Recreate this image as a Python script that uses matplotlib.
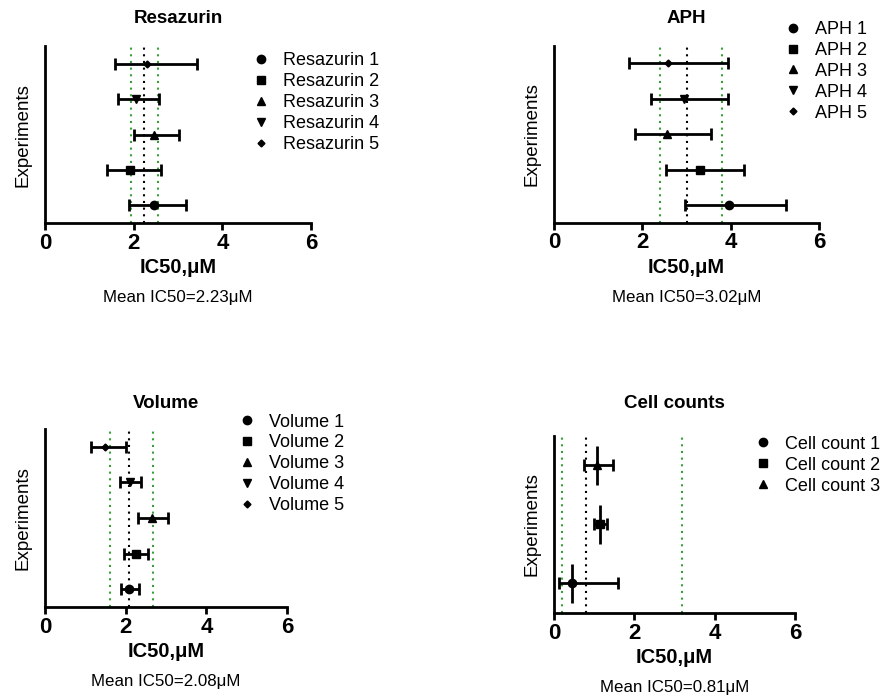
import matplotlib
matplotlib.use("Agg")
from matplotlib import pyplot as plt
from matplotlib.lines import Line2D
import numpy as np

plt.rcParams['font.family'] = ['Liberation Sans', 'DejaVu Sans']

# IC50 values (uM): centre, lower and upper limits of the interval
res_labels = ['Resazurin 1', 'Resazurin 2', 'Resazurin 3', 'Resazurin 4', 'Resazurin 5']
res_ic50 = [2.45, 1.91, 2.46, 2.06, 2.30]
res_low = [1.90, 1.40, 2.00, 1.65, 1.57]
res_high = [3.18, 2.61, 3.03, 2.58, 3.42]
res_mean, res_ci = 2.23, (1.93, 2.56)

aph_labels = ['APH 1', 'APH 2', 'APH 3', 'APH 4', 'APH 5']
aph_ic50 = [3.96, 3.30, 2.57, 2.95, 2.58]
aph_low = [2.96, 2.53, 1.83, 2.19, 1.70]
aph_high = [5.26, 4.30, 3.56, 3.95, 3.95]
aph_mean, aph_ci = 3.02, (2.41, 3.80)

vol_labels = ['Volume 1', 'Volume 2', 'Volume 3', 'Volume 4', 'Volume 5']
vol_ic50 = [2.08, 2.25, 2.65, 2.10, 1.50]
vol_low = [1.88, 1.95, 2.31, 1.87, 1.13]
vol_high = [2.33, 2.56, 3.05, 2.39, 2.00]
vol_mean, vol_ci = 2.08, (1.62, 2.68)

cell_labels = ['Cell count 1', 'Cell count 2', 'Cell count 3']
cell_ic50 = [0.44, 1.15, 1.07]
cell_low = [0.12, 1.00, 0.76]
cell_high = [1.59, 1.33, 1.47]
cell_yerr = [0.33, 0.33, 0.33]
cell_mean, cell_ci = 0.81, (0.21, 3.20)

markers = ['o', 's', '^', 'v', 'D']
msizes = [6, 6, 6, 6, 3.5]
green = '#3c9c3c'

fig = plt.figure(figsize=(8.82, 6.95), dpi=100)


def panel(rect, title, labels, ic50, low, high, mean, ci, legxy, tpad, yerr=None):
    ax = fig.add_axes(rect)
    n = len(labels)
    ys = np.arange(1, n + 1)
    handles = []
    for i in range(n):
        xe = [[ic50[i] - low[i]], [high[i] - ic50[i]]]
        if yerr is not None:
            # vertical bars have no caps
            ax.errorbar(ic50[i], ys[i], yerr=[yerr[i]], fmt='none',
                        ecolor='black', elinewidth=2, capsize=0, zorder=3)
        ax.errorbar(ic50[i], ys[i], xerr=xe, fmt=markers[i],
                    ms=msizes[i], color='black', ecolor='black',
                    elinewidth=2, capsize=4, capthick=2, zorder=3)
        handles.append(Line2D([], [], marker=markers[i], ms=msizes[i],
                              color='black', ls='none', label=labels[i]))
    ax.axvline(mean, color='black', ls=(0, (1, 2.2)), lw=1.5, zorder=1)
    for c in ci:
        ax.axvline(c, color=green, ls=(0, (1, 2.2)), lw=1.5, zorder=1)
    ax.set_xlim(0, 6)
    ax.set_ylim(0.5, n + 0.5)
    ax.set_xticks([0, 2, 4, 6])
    ax.set_yticks([])
    for s in ['top', 'right']:
        ax.spines[s].set_visible(False)
    for s in ['left', 'bottom']:
        ax.spines[s].set_linewidth(2)
    ax.tick_params(axis='x', width=2, length=5, labelsize=16, pad=2)
    for t in ax.get_xticklabels():
        t.set_fontweight('bold')
    ax.set_title(title, fontsize=13.5, fontweight='bold', pad=tpad)
    ax.set_ylabel('Experiments', fontsize=13.5, labelpad=10)
    ax.set_xlabel('IC50,\u03bcM', fontsize=14.5, fontweight='bold', labelpad=3)
    ax.text(0.5, -0.42, 'Mean IC50=%.2f\u03bcM' % mean, transform=ax.transAxes,
            ha='center', va='center', fontsize=12.2)
    ax.legend(handles=handles, loc='upper left', bbox_to_anchor=legxy,
              bbox_transform=fig.transFigure, frameon=False, fontsize=13,
              handletextpad=0.7, labelspacing=0.22, handlelength=1.0,
              borderpad=0, borderaxespad=0)
    return ax


panel([0.051, 0.679, 0.3016, 0.2547], 'Resazurin', res_labels, res_ic50,
      res_low, res_high, res_mean, res_ci, (0.286, 0.925), 16.5)
panel([0.628, 0.6796, 0.3005, 0.2547], 'APH', aph_labels, aph_ic50,
      aph_low, aph_high, aph_mean, aph_ci, (0.889, 0.970), 16.5)
panel([0.051, 0.1266, 0.2744, 0.256], 'Volume', vol_labels, vol_ic50,
      vol_low, vol_high, vol_mean, vol_ci, (0.270, 0.405), 15.5)
panel([0.628, 0.118, 0.2732, 0.2547], 'Cell counts', cell_labels, cell_ic50,
      cell_low, cell_high, cell_mean, cell_ci, (0.855, 0.373), 20.5, yerr=cell_yerr)

fig.savefig('out.png', dpi=100, facecolor='white')
